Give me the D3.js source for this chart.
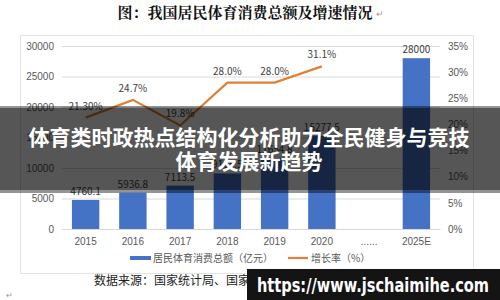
<!DOCTYPE html>
<html>
<head>
<meta charset="utf-8">
<script src="https://cdn.jsdelivr.net/npm/d3@7"></script>
<style>
  body { margin: 0; background: #fff; }
  svg { display: block; font-family: "Noto Sans CJK SC", "Noto Sans", sans-serif; }
</style>
</head>
<body>
<div id="chart"></div>
<script>
// data
const years = ["2015", "2016", "2017", "2018", "2019", "2020", "......", "2025E"];
const totals = [4760.1, 5936.8, 7113.5, 9105.5, 11654.8, 15277.5, null, 28000];
const totalLabels = ["4760.1", "5936.8", "7113.5", "9105.5", "11654.8", "15277.5", "", "28000"];
const growth = [21.3, 24.7, 19.8, 28.0, 28.0, 31.1, null, null];
const growthLabels = ["21.30%", "24.7%", "19.8%", "28.0%", "28.0%", "31.1%", "", ""];
const leftTicks = [0, 5000, 10000, 15000, 20000, 25000, 30000];
const rightTicks = [0, 5, 10, 15, 20, 25, 30, 35];

const width = 500, height = 300;
const svg = d3.select("#chart").append("svg")
  .attr("width", width).attr("height", height);

// title
svg.append("text")
  .attr("x", 245).attr("y", 18)
  .attr("text-anchor", "middle")
  .style("font-size", "15px").style("font-weight", "bold")
  .style("font-family", "'Noto Serif CJK SC', 'Noto Sans CJK SC', serif")
  .attr("fill", "#111")
  .text("图：我国居民体育消费总额及增速情况");
svg.append("text").attr("x", 376).attr("y", 17)
  .style("font-size", "9px").attr("fill", "#999").text("↵");

// chart frame
svg.append("rect")
  .attr("x", 20.5).attr("y", 35.5).attr("width", 453).attr("height", 238)
  .attr("fill", "none").attr("stroke", "#e3e3e3");

const x = d3.scaleBand().domain(years).range([62, 440]).paddingInner(0.42).paddingOuter(0.21);
const yL = d3.scaleLinear().domain([0, 30000]).range([229, 46]);
const yR = d3.scaleLinear().domain([0, 35]).range([229, 46]);

// gridlines + left axis
const left = svg.append("g").attr("transform", "translate(62,0)")
  .call(d3.axisLeft(yL).tickValues(leftTicks).tickSize(-378).tickPadding(8).tickFormat(d3.format("d")));
left.select(".domain").remove();
left.selectAll("line").attr("stroke", "#d9d9d9");
left.selectAll("text").attr("fill", "#595959").style("font-size", "10px");

// right axis
const right = svg.append("g").attr("transform", "translate(440,0)")
  .call(d3.axisRight(yR).tickValues(rightTicks).tickSize(0).tickPadding(8).tickFormat(d => d + "%"));
right.select(".domain").remove();
right.selectAll("text").attr("fill", "#595959").style("font-size", "10px");

// x axis
const bottom = svg.append("g").attr("transform", "translate(0,229)")
  .call(d3.axisBottom(x).tickSize(0).tickPadding(9));
bottom.select(".domain").attr("stroke", "#d9d9d9");
bottom.selectAll("text").attr("fill", "#595959").style("font-size", "10px");

// bars
const barData = years.map((y, i) => ({ year: y, v: totals[i], label: totalLabels[i] })).filter(d => d.v != null);
svg.selectAll(".bar").data(barData).enter().append("rect")
  .attr("x", d => x(d.year)).attr("width", x.bandwidth())
  .attr("y", d => yL(d.v)).attr("height", d => yL(0) - yL(d.v))
  .attr("fill", "#4472c4");
svg.selectAll(".blab").data(barData).enter().append("text")
  .attr("x", d => x(d.year) + x.bandwidth() / 2).attr("y", d => yL(d.v) - 5)
  .attr("text-anchor", "middle").style("font-size", "10px").attr("fill", "#404040")
  .text(d => d.label);

// growth line
const lineData = years.map((y, i) => ({ year: y, v: growth[i], label: growthLabels[i] })).filter(d => d.v != null);
svg.append("path").datum(lineData)
  .attr("fill", "none").attr("stroke", "#e07f36").attr("stroke-width", 2.2)
  .attr("d", d3.line().x(d => x(d.year) + x.bandwidth() / 2).y(d => yR(d.v)));
svg.selectAll(".llab").data(lineData).enter().append("text")
  .attr("x", d => x(d.year) + x.bandwidth() / 2).attr("y", d => yR(d.v) - 8)
  .attr("text-anchor", "middle").style("font-size", "10px").attr("fill", "#404040")
  .text(d => d.label);

// legend
svg.append("rect").attr("x", 130).attr("y", 256).attr("width", 21).attr("height", 4).attr("fill", "#4472c4");
svg.append("text").attr("x", 153).attr("y", 262).style("font-size", "10px").attr("fill", "#595959")
  .text("居民体育消费总额（亿元）");
svg.append("line").attr("x1", 288).attr("x2", 308).attr("y1", 258).attr("y2", 258)
  .attr("stroke", "#e07f36").attr("stroke-width", 2.2);
svg.append("text").attr("x", 311).attr("y", 262).style("font-size", "10px").attr("fill", "#595959")
  .text("增长率（%）");

// source line
svg.append("text").attr("x", 94).attr("y", 285).style("font-size", "12px").attr("fill", "#222")
  .text("数据来源：国家统计局、国家“十四五”体育发展规划、国际体育产业");
svg.append("text").attr("x", 6).attr("y", 298).style("font-size", "8px").attr("fill", "#999").text("↵");

// dark headline band
svg.append("rect").attr("x", 0).attr("y", 106).attr("width", width).attr("height", 87)
  .attr("fill", "rgba(0,0,0,0.42)");
svg.append("rect").attr("x", 0).attr("y", 108).attr("width", width).attr("height", 82)
  .attr("fill", "rgba(0,0,0,0.42)");
const headline = ["体育类时政热点结构化分析助力全民健身与竞技", "体育发展新趋势"];
svg.selectAll(".hl").data(headline).enter().append("text")
  .attr("x", 249).attr("y", (d, i) => 145 + i * 24)
  .attr("text-anchor", "middle")
  .style("font-size", "21px").style("font-weight", "bold")
  .attr("fill", "#fff")
  .text(d => d);

// url banner
svg.append("rect").attr("x", 247).attr("y", 269).attr("width", 253).attr("height", 31).attr("fill", "#141414");
svg.append("text").attr("x", 257).attr("y", 292)
  .attr("textLength", 232).attr("lengthAdjust", "spacingAndGlyphs")
  .style("font-family", "'DejaVu Sans', sans-serif")
  .style("font-size", "19px").style("font-weight", "bold").attr("fill", "#fff")
  .text("https://www.jschaimihe.com");
</script>
</body>
</html>
